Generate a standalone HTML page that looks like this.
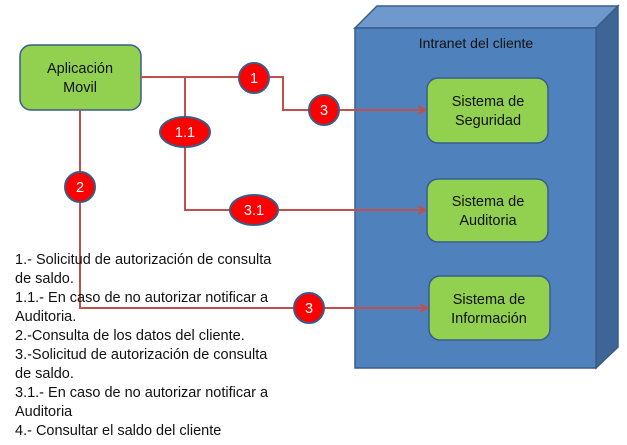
<!DOCTYPE html>
<html><head><style>
body{margin:0;background:#fff;width:627px;height:445px;overflow:hidden;font-family:"Liberation Sans",sans-serif}
.t{position:absolute;left:15px;top:251px;font-size:14.5px;line-height:19px;color:#111;white-space:nowrap}
</style></head><body>
<svg width="627" height="445" style="position:absolute;left:0;top:0" font-family="Liberation Sans, sans-serif">
<defs><marker id="a" markerWidth="10" markerHeight="10" refX="8" refY="5" orient="auto" markerUnits="userSpaceOnUse"><path d="M1,1 L8,5 L1,9" fill="none" stroke="#c0504d" stroke-width="2"/></marker></defs>
<polygon points="355,28 377,6 618,6 596,28" fill="#6f98cc" stroke="#385d8a" stroke-width="1.5"/>
<polygon points="596,28 618,6 618,347 596,368" fill="#3f6597" stroke="#385d8a" stroke-width="1.5"/>
<rect x="355" y="28" width="241" height="340" fill="#4f81bd" stroke="#385d8a" stroke-width="1.5"/>
<text x="476" y="48" font-size="14" text-anchor="middle" fill="#111">Intranet del cliente</text>
<rect x="427" y="78" width="121" height="65" rx="11" fill="#92d050" stroke="#385d8a" stroke-width="1.5"/>
<text x="488" y="106" font-size="14.5" text-anchor="middle" fill="#111">Sistema de</text>
<text x="488" y="125" font-size="14.5" text-anchor="middle" fill="#111">Seguridad</text>
<rect x="427" y="179" width="121" height="63" rx="11" fill="#92d050" stroke="#385d8a" stroke-width="1.5"/>
<text x="488" y="206" font-size="14.5" text-anchor="middle" fill="#111">Sistema de</text>
<text x="488" y="225" font-size="14.5" text-anchor="middle" fill="#111">Auditoria</text>
<rect x="429" y="276" width="121" height="64" rx="11" fill="#92d050" stroke="#385d8a" stroke-width="1.5"/>
<text x="489" y="304" font-size="14.5" text-anchor="middle" fill="#111">Sistema de</text>
<text x="489" y="323" font-size="14.5" text-anchor="middle" fill="#111">Información</text>
<rect x="20" y="45" width="121" height="65" rx="11" fill="#92d050" stroke="#385d8a" stroke-width="1.5"/>
<text x="80" y="73" font-size="14.5" text-anchor="middle" fill="#111">Aplicación</text>
<text x="80" y="92" font-size="14.5" text-anchor="middle" fill="#111">Movil</text>
<g fill="none" stroke="#c0504d" stroke-width="2">
<polyline points="141,77 283,77 283,110 425,110" marker-end="url(#a)"/>
<polyline points="185,77 185,210 425,210" marker-end="url(#a)"/>
<polyline points="80,110 80,308 427,308" marker-end="url(#a)"/>
</g>
<g fill="#ff0000" stroke="#385d8a" stroke-width="2">
<circle cx="254" cy="78" r="15"/>
<circle cx="324" cy="110" r="15"/>
<ellipse cx="185" cy="132" rx="25" ry="15"/>
<ellipse cx="254" cy="210" rx="24" ry="15"/>
<circle cx="80" cy="187" r="15"/>
<circle cx="309" cy="308" r="15"/>
</g>
<g fill="#fff" font-size="14.5" text-anchor="middle">
<text x="254" y="83">1</text>
<text x="324" y="115">3</text>
<text x="185" y="137">1.1</text>
<text x="254" y="215">3.1</text>
<text x="80" y="192">2</text>
<text x="309" y="313">3</text>
</g>
</svg>
<div class="t">1.- Solicitud de autorización de consulta<br>de saldo.<br>1.1.- En caso de no autorizar notificar a<br>Auditoria.<br>2.-Consulta de los datos del cliente.<br>3.-Solicitud de autorización de consulta<br>de saldo.<br>3.1.- En caso de no autorizar notificar a<br>Auditoria<br>4.- Consultar el saldo del cliente</div>
</body></html>
